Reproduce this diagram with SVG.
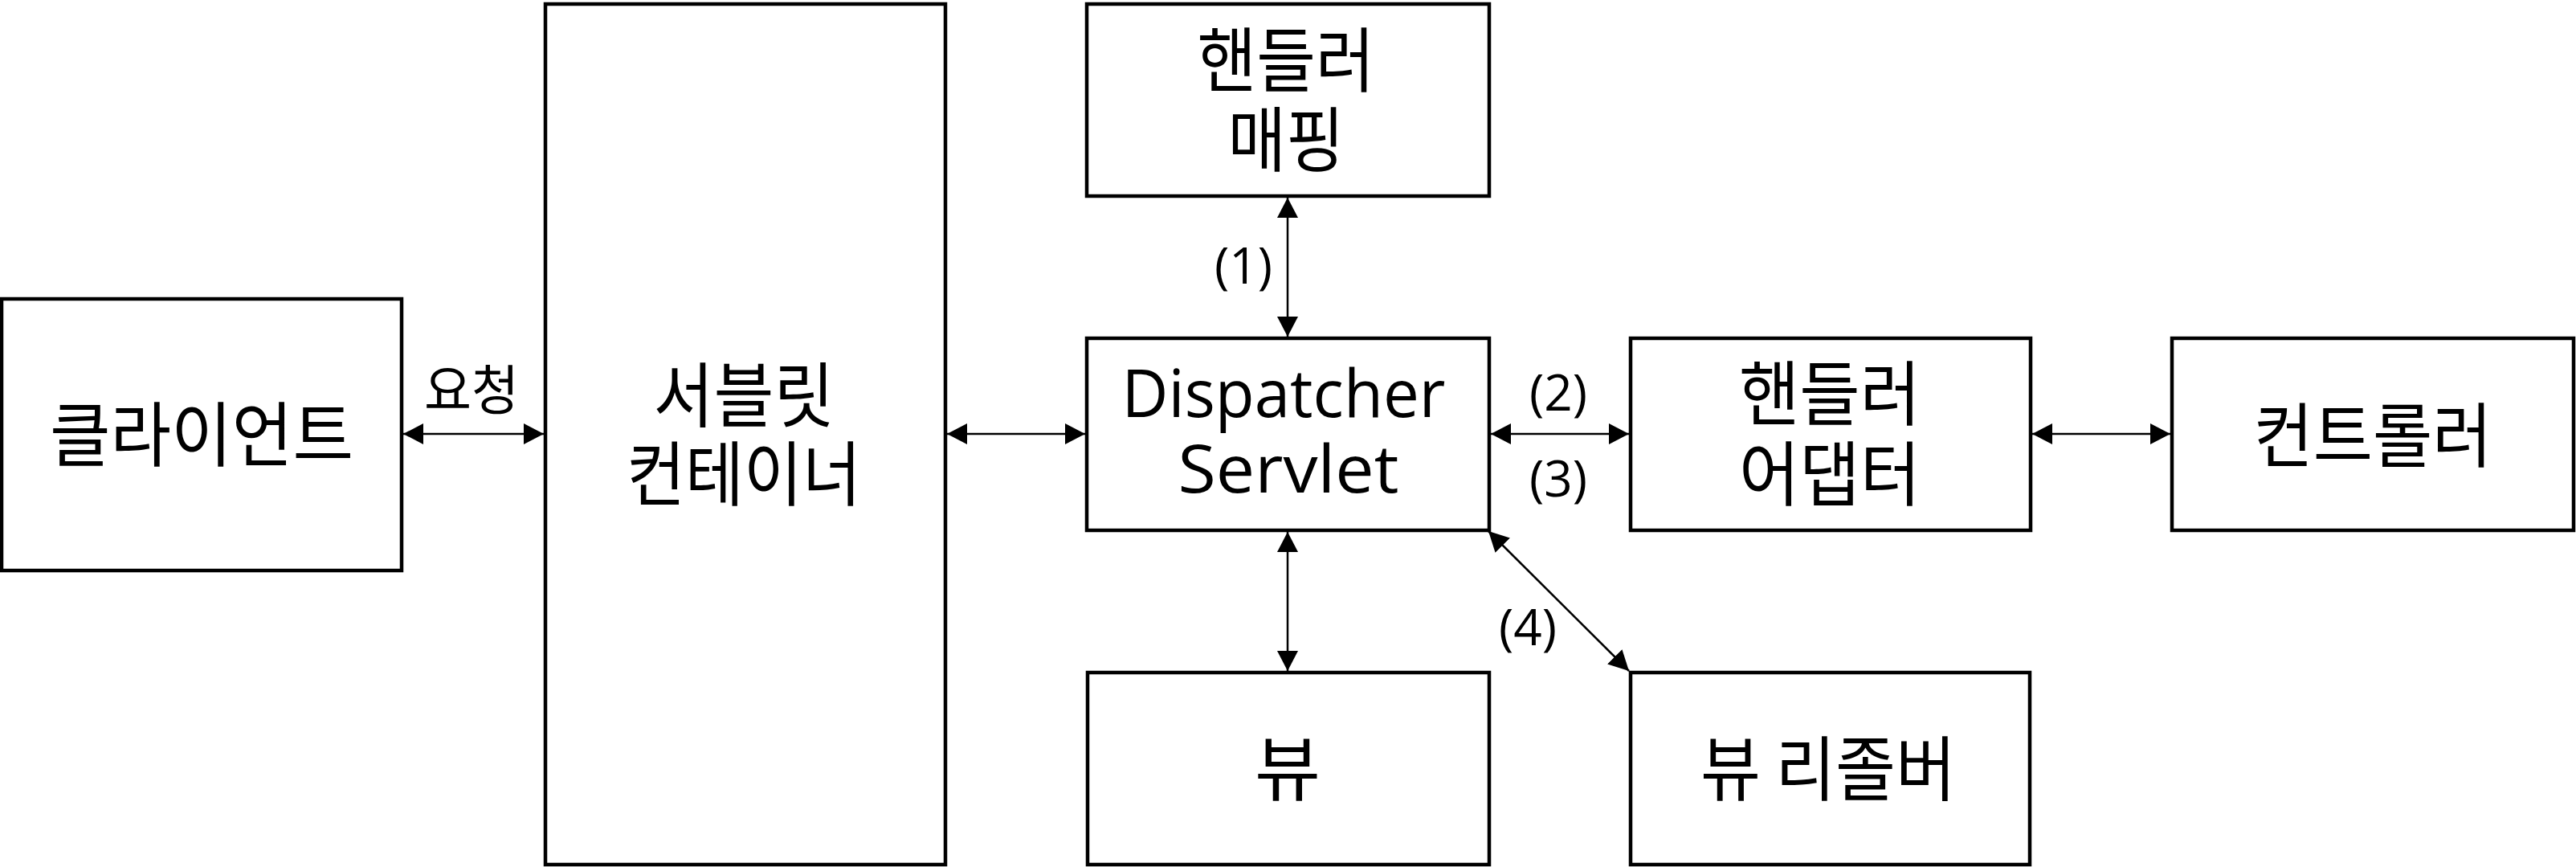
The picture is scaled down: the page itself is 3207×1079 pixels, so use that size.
<svg xmlns="http://www.w3.org/2000/svg" width="3207" height="1079" viewBox="0 0 3207 1079">
<defs>
<style>
.box{fill:#fff;stroke:#000;stroke-width:4.5}
.ko{font-family:"Noto Sans CJK KR","Noto Sans",sans-serif;font-size:88px;fill:#000;text-anchor:middle}
.la{font-family:"Open Sans","Noto Sans",sans-serif;font-size:82px;fill:#000;text-anchor:middle}
.lbl{font-family:"Open Sans","Noto Sans",sans-serif;font-size:62px;fill:#000;text-anchor:middle}
.con{stroke:#000;stroke-width:2.5;fill:none;marker-start:url(#ah);marker-end:url(#ah)}
</style>
<marker id="ah" markerUnits="userSpaceOnUse" markerWidth="26" markerHeight="26" refX="25" refY="13" orient="auto-start-reverse" viewBox="0 0 26 26">
<path d="M0,0 L25,13 L0,26 z" fill="#000"/>
</marker>
</defs>
<rect width="3207" height="1079" fill="#fff"/>
<g id="client">
<rect class="box" x="2" y="372" width="498" height="338"/>
<text class="ko" x="251" y="573" textLength="378" lengthAdjust="spacingAndGlyphs">클라이언트</text>
</g>
<g id="servlet-container">
<rect class="box" x="679" y="5" width="498" height="1071"/>
<text class="ko" x="926" y="524" textLength="225" lengthAdjust="spacingAndGlyphs">서블릿</text>
<text class="ko" x="926" y="622" textLength="292" lengthAdjust="spacingAndGlyphs">컨테이너</text>
</g>
<g id="handler-mapping">
<rect class="box" x="1353" y="5" width="501" height="239"/>
<text class="ko" x="1601" y="107" textLength="221" lengthAdjust="spacingAndGlyphs">핸들러</text>
<text class="ko" x="1601" y="206" textLength="145" lengthAdjust="spacingAndGlyphs">매핑</text>
</g>
<g id="dispatcher-servlet">
<rect class="box" x="1353" y="421" width="501" height="239"/>
<text class="la" x="1598" y="519" textLength="403" lengthAdjust="spacingAndGlyphs">Dispatcher</text>
<text class="la" x="1604" y="613" textLength="275" lengthAdjust="spacingAndGlyphs">Servlet</text>
</g>
<g id="handler-adapter">
<rect class="box" x="2030" y="421" width="498" height="239"/>
<text class="ko" x="2278" y="522" textLength="226" lengthAdjust="spacingAndGlyphs">핸들러</text>
<text class="ko" x="2278" y="622" textLength="226" lengthAdjust="spacingAndGlyphs">어댑터</text>
</g>
<g id="controller">
<rect class="box" x="2704" y="421" width="500" height="239"/>
<text class="ko" x="2954" y="574" textLength="297" lengthAdjust="spacingAndGlyphs">컨트롤러</text>
</g>
<g id="view">
<rect class="box" x="1354" y="837" width="500" height="239"/>
<text class="ko" x="1603" y="989" textLength="82" lengthAdjust="spacingAndGlyphs">뷰</text>
</g>
<g id="view-resolver">
<rect class="box" x="2030" y="837" width="497" height="239"/>
<text class="ko" x="2276" y="989" textLength="318" lengthAdjust="spacingAndGlyphs">뷰 리졸버</text>
</g>
<g id="connectors">
<line class="con" x1="502" y1="540" x2="677" y2="540"/>
<line class="con" x1="1179" y1="540" x2="1351" y2="540"/>
<line class="con" x1="1603" y1="246" x2="1603" y2="419"/>
<line class="con" x1="1856" y1="540" x2="2028" y2="540"/>
<line class="con" x1="2530" y1="540" x2="2702" y2="540"/>
<line class="con" x1="1603" y1="662" x2="1603" y2="835"/>
<line class="con" x1="1853" y1="661" x2="2028" y2="835"/>
<text class="ko" style="font-size:67px" x="587" y="510" textLength="118" lengthAdjust="spacingAndGlyphs">요청</text>
<text class="lbl" x="1548" y="353">(1)</text>
<text class="lbl" x="1940" y="511">(2)</text>
<text class="lbl" x="1940" y="618">(3)</text>
<text class="lbl" x="1902" y="803">(4)</text>
</g>
</svg>
